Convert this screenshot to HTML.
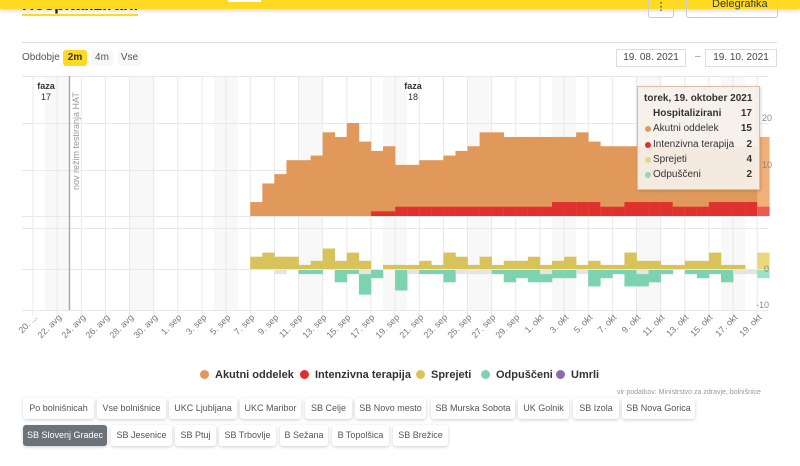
<!DOCTYPE html>
<html><head><meta charset="utf-8">
<style>
*{margin:0;padding:0;box-sizing:border-box}
body{width:800px;height:466px;overflow:hidden;background:#fff;font-family:"Liberation Sans",sans-serif;position:relative;color:#333}
.abs{position:absolute}
.btn{position:absolute;height:21px;border-radius:3px;background:#fff;box-shadow:0 1px 3px rgba(0,0,0,0.2);font-size:9px;color:#555;line-height:21px;text-align:center;white-space:nowrap}
.sel{background:#6b7278;color:#fff}
.leg{position:absolute;top:369px;font-size:11px;font-weight:bold;color:#333;white-space:nowrap}
.dot{display:inline-block;width:9px;height:9px;border-radius:50%;margin-right:6px;vertical-align:-1px}
</style></head><body>
<div class="abs" style="left:22px;top:-4px;font-size:17px;font-weight:bold;color:#222;border-bottom:2px solid #ffd922;line-height:18px">Hospitalizirani</div>
<div class="abs" style="left:0;top:0;width:800px;height:9px;background:#ffd922;box-shadow:0 2px 4px rgba(0,0,0,0.15)"></div>
<div class="abs" style="left:228px;top:0;width:33px;height:2px;background:#fff"></div>
<div class="abs" style="left:648px;top:0;width:26px;height:18px;border:1px solid #ccc;border-top:none;border-radius:0 0 3px 3px;font-size:11px;text-align:center">⋮</div>
<div class="abs" style="left:686px;top:0;width:92px;height:18px;border:1px solid #ccc;border-top:none;border-radius:0 0 3px 3px;font-size:11px;line-height:8px;padding-left:25px;color:#333">Delegrafika</div>
<div class="abs" style="left:22px;top:42px;width:755px;height:1px;background:#ddd"></div>
<div class="abs" style="left:22px;top:52px;font-size:10px;color:#555">Obdobje</div>
<div class="abs" style="left:63px;top:50px;width:24px;height:16px;background:#ffd922;border-radius:3px;font-size:10px;font-weight:bold;text-align:center;line-height:16px">2m</div>
<div class="abs" style="left:91px;top:50px;width:22px;height:16px;background:#f7f7f7;border-radius:3px;font-size:10px;text-align:center;line-height:16px;color:#555">4m</div>
<div class="abs" style="left:118px;top:50px;width:23px;height:16px;background:#f7f7f7;border-radius:3px;font-size:10px;text-align:center;line-height:16px;color:#555">Vse</div>
<div class="abs" style="left:616px;top:49px;width:70px;height:18px;border:1px solid #ddd;font-size:10px;text-align:center;line-height:16px;color:#444">19. 08. 2021</div>
<div class="abs" style="left:695px;top:51px;font-size:10px;color:#888">–</div>
<div class="abs" style="left:705px;top:49px;width:72px;height:18px;border:1px solid #ddd;font-size:10px;text-align:center;line-height:16px;color:#444">19. 10. 2021</div>

<svg class="abs" style="left:0;top:0" width="800" height="360" id="ch" font-family="Liberation Sans, sans-serif">
<g id="bg"></g>
<g stroke="#e8e8e8" stroke-width="1">
<line x1="22" y1="76.5" x2="768" y2="76.5"/><line x1="22" y1="123.5" x2="768" y2="123.5"/><line x1="22" y1="170.5" x2="768" y2="170.5"/><line x1="22" y1="216.5" x2="768" y2="216.5"/>
<line x1="22" y1="228.5" x2="768" y2="228.5"/><line x1="22" y1="269.5" x2="768" y2="269.5"/><line x1="22" y1="310.5" x2="768" y2="310.5"/>
</g>
<g id="bars"></g>
<line x1="69.5" y1="76" x2="69.5" y2="310" stroke="#aaa" stroke-width="1.5"/>
<text transform="translate(79,190) rotate(-90)" font-size="9" fill="#999">nov režim testiranja HAT</text>
<text x="46" y="89" font-size="9" font-weight="bold" text-anchor="middle" fill="#333">faza</text>
<text x="46" y="100" font-size="9" text-anchor="middle" fill="#333">17</text>
<text x="413" y="89" font-size="9" font-weight="bold" text-anchor="middle" fill="#333">faza</text>
<text x="413" y="100" font-size="9" text-anchor="middle" fill="#333">18</text>
<g font-size="9" fill="#888">
<text x="762" y="121">20</text><text x="762" y="168">10</text><text x="764" y="272">0</text><text x="756" y="308">-10</text>
</g>
<g font-size="9" fill="#777" text-anchor="end">
<text transform="translate(38,318) rotate(-45)">20. ...</text>
<text transform="translate(62,318) rotate(-45)">22. avg</text>
<text transform="translate(86,318) rotate(-45)">24. avg</text>
<text transform="translate(110,318) rotate(-45)">26. avg</text>
<text transform="translate(134,318) rotate(-45)">28. avg</text>
<text transform="translate(158,318) rotate(-45)">30. avg</text>
<text transform="translate(182,318) rotate(-45)">1. sep</text>
<text transform="translate(207,318) rotate(-45)">3. sep</text>
<text transform="translate(231,318) rotate(-45)">5. sep</text>
<text transform="translate(255,318) rotate(-45)">7. sep</text>
<text transform="translate(279,318) rotate(-45)">9. sep</text>
<text transform="translate(303,318) rotate(-45)">11. sep</text>
<text transform="translate(327,318) rotate(-45)">13. sep</text>
<text transform="translate(351,318) rotate(-45)">15. sep</text>
<text transform="translate(375,318) rotate(-45)">17. sep</text>
<text transform="translate(400,318) rotate(-45)">19. sep</text>
<text transform="translate(424,318) rotate(-45)">21. sep</text>
<text transform="translate(448,318) rotate(-45)">23. sep</text>
<text transform="translate(472,318) rotate(-45)">25. sep</text>
<text transform="translate(496,318) rotate(-45)">27. sep</text>
<text transform="translate(520,318) rotate(-45)">29. sep</text>
<text transform="translate(544,318) rotate(-45)">1. okt</text>
<text transform="translate(569,318) rotate(-45)">3. okt</text>
<text transform="translate(593,318) rotate(-45)">5. okt</text>
<text transform="translate(617,318) rotate(-45)">7. okt</text>
<text transform="translate(641,318) rotate(-45)">9. okt</text>
<text transform="translate(665,318) rotate(-45)">11. okt</text>
<text transform="translate(689,318) rotate(-45)">13. okt</text>
<text transform="translate(713,318) rotate(-45)">15. okt</text>
<text transform="translate(738,318) rotate(-45)">17. okt</text>
<text transform="translate(762,318) rotate(-45)">19. okt</text>
</g>
</svg>

<div class="abs" style="left:637px;top:86px;width:123px;height:104px;background:rgba(246,240,234,0.93);border:1px solid #d9bfa6;box-shadow:1px 1px 3px rgba(0,0,0,0.15);font-size:10px;color:#333">
<div style="position:absolute;left:6px;top:6px;font-weight:bold">torek, 19. oktober 2021</div>
<div style="position:absolute;left:15px;top:21px;font-weight:bold">Hospitalizirani</div><div style="position:absolute;right:7px;top:21px;font-weight:bold">17</div>
<div style="position:absolute;left:7px;top:36px"><span class="dot" style="width:6px;height:6px;margin-right:2px;background:#e0995a"></span>Akutni oddelek</div><div style="position:absolute;right:7px;top:36px;font-weight:bold">15</div>
<div style="position:absolute;left:7px;top:52px"><span class="dot" style="width:6px;height:6px;margin-right:2px;background:#e0312e"></span>Intenzivna terapija</div><div style="position:absolute;right:7px;top:52px;font-weight:bold">2</div>
<div style="position:absolute;left:7px;top:67px"><span class="dot" style="width:6px;height:6px;margin-right:2px;background:#e3d48b"></span>Sprejeti</div><div style="position:absolute;right:7px;top:67px;font-weight:bold">4</div>
<div style="position:absolute;left:7px;top:82px"><span class="dot" style="width:6px;height:6px;margin-right:2px;background:#8fd8b8"></span>Odpuščeni</div><div style="position:absolute;right:7px;top:82px;font-weight:bold">2</div>
</div>

<div class="leg" style="left:200px"><span class="dot" style="background:#e0995a"></span>Akutni oddelek</div>
<div class="leg" style="left:300px"><span class="dot" style="background:#e0312e"></span>Intenzivna terapija</div>
<div class="leg" style="left:416px"><span class="dot" style="background:#d9c45c"></span>Sprejeti</div>
<div class="leg" style="left:481px"><span class="dot" style="background:#7dd3b0"></span>Odpuščeni</div>
<div class="leg" style="left:556px"><span class="dot" style="background:#8a6bb0"></span>Umrli</div>
<div class="abs" style="left:617px;top:389px;font-size:7px;color:#999">vir podatkov: Ministrstvo za zdravje, bolnišnice</div>

<div class="btn" style="left:23px;top:398px;width:71px">Po bolnišnicah</div>
<div class="btn" style="left:97px;top:398px;width:69px">Vse bolnišnice</div>
<div class="btn" style="left:169px;top:398px;width:68px">UKC Ljubljana</div>
<div class="btn" style="left:240px;top:398px;width:61px">UKC Maribor</div>
<div class="btn" style="left:305px;top:398px;width:47px">SB Celje</div>
<div class="btn" style="left:355px;top:398px;width:71px">SB Novo mesto</div>
<div class="btn" style="left:431px;top:398px;width:84px">SB Murska Sobota</div>
<div class="btn" style="left:518px;top:398px;width:51px">UK Golnik</div>
<div class="btn" style="left:573px;top:398px;width:46px">SB Izola</div>
<div class="btn" style="left:622px;top:398px;width:73px">SB Nova Gorica</div>
<div class="btn sel" style="left:23px;top:425px;width:84px">SB Slovenj Gradec</div>
<div class="btn" style="left:111px;top:425px;width:61px">SB Jesenice</div>
<div class="btn" style="left:175px;top:425px;width:41px">SB Ptuj</div>
<div class="btn" style="left:219px;top:425px;width:57px">SB Trbovlje</div>
<div class="btn" style="left:280px;top:425px;width:48px">B Sežana</div>
<div class="btn" style="left:332px;top:425px;width:57px">B Topolšica</div>
<div class="btn" style="left:393px;top:425px;width:55px">SB Brežice</div>

<script>
(function(){
var ns="http://www.w3.org/2000/svg",w=12.07,x0=33;
function X(d){return x0+d*w}
function r(g,x,y,wd,h,c){if(h<=0)return;var e=document.createElementNS(ns,"rect");e.setAttribute("x",x);e.setAttribute("y",y);e.setAttribute("width",wd);e.setAttribute("height",h);e.setAttribute("fill",c);g.appendChild(e)}
var bg=document.getElementById("bg"),bars=document.getElementById("bars");
[1,8,15,22,29,36,43,50,57].forEach(function(d){r(bg,X(d),76,2*w,234,"#f8f8f8")});
for(var d=0;d<=60;d+=2){var l=document.createElementNS(ns,"line");l.setAttribute("x1",X(d));l.setAttribute("x2",X(d));l.setAttribute("y1",76);l.setAttribute("y2",315);l.setAttribute("stroke","#e8e8e8");bg.appendChild(l)}
var tot=[3,7,9,12,12,13,18,17,20,16,14,15,11,11,12,12,13,14,15,18,18,17,17,17,17,17,17,18,16,15,15,15,15,15,15,15,15,15,15,15,15,15,17];
var icu=[0,0,0,0,0,0,0,0,0,0,1,1,2,2,2,2,2,2,2,2,2,2,2,2,2,3,3,3,3,2,2,3,3,3,3,2,2,2,3,3,3,3,2];
var sp=[3,4,3,3,1,2,5,2,4,2,0,1,1,1,2,1,4,3,1,3,1,2,2,3,1,2,3,1,2,1,1,4,2,2,1,1,2,2,4,1,1,0,4];
var od=[0,0,0,0,1,1,0,3,1,5,2,0,5,0,1,1,3,0,0,0,1,3,2,3,2,2,2,0,4,2,1,4,3,3,1,0,1,2,1,3,0,0,2];
var gr=[0,0,1,0,0,0,0,0,0,1,0,0,0,1,0,0,0,1,1,1,0,0,0,0,1,0,0,1,0,0,0,0,1,0,0,0,0,0,0,0,1,1,0];
var k=4.65,k2=4.1;
for(var i=0;i<tot.length;i++){
 var d=18+i,x=X(d),last=(i==tot.length-1);
 var o=last?"#f0b077":"#e0995a",rd=last?"#ec5a55":"#e0312e",y=last?"#ecd77e":"#d8c35a",g=last?"#9be3c3":"#7dd3b0";
 r(bars,x,216-tot[i]*k,w+0.3,tot[i]*k,o);
 r(bars,x,216-icu[i]*k,w+0.3,icu[i]*k,rd);
 r(bars,x,269-sp[i]*k2,w+0.3,sp[i]*k2,y);
 var gg=gr[i]?gr[i]:0;
 r(bars,x,270,w+0.3,gg*k2,"#e4e4e4");
 r(bars,x,270+gg*k2,w+0.3,od[i]*k2,g);
}
})();
</script>
</body></html>
